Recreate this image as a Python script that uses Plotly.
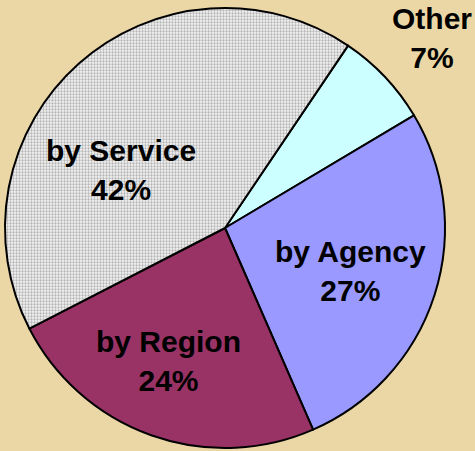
import plotly.graph_objects as go

labels = ["Other", "by Agency", "by Region", "by Service"]
values = [7, 27, 24, 42]
colors = ["#CCFFFF", "#9999FF", "#993366", "#F2F2F2"]

W, H = 475, 451
cx, cy, r = 225, 228, 220
FONT = dict(family="Liberation Sans, Arial", size=30, color="black", weight="bold")
# label block centres in pixels (layout placement only)
label_pos = [(432, 38), (350, 271), (168, 361), (121, 170)]

fig = go.Figure(go.Pie(
    labels=labels,
    values=values,
    sort=False,
    direction="clockwise",
    rotation=34,
    marker=dict(
        colors=colors,
        line=dict(color="black", width=2),
        pattern=dict(shape=["", "", "", "."], fgcolor="#B4B4B4", bgcolor="#F4F4F4", size=3, solidity=0.45),
    ),
    textinfo="none",
    domain=dict(x=[(cx - r) / W, (cx + r) / W], y=[1 - (cy + r) / H, 1 - (cy - r) / H]),
    showlegend=False,
    hoverinfo="label+percent",
))

total = sum(values)
for lab, val, (px, py) in zip(labels, values, label_pos):
    fig.add_annotation(
        x=px / W, y=1 - py / H, xref="paper", yref="paper",
        xanchor="center", yanchor="middle",
        text=f"{lab}<br>{round(100 * val / total)}%",
        showarrow=False,
        font=FONT,
    )

fig.update_layout(
    width=W, height=H,
    margin=dict(l=0, r=0, t=0, b=0),
    paper_bgcolor="#EBD7A6",
    plot_bgcolor="#EBD7A6",
)
fig.write_html("out.html", config={"displayModeBar": False},
               post_script="document.body.style.margin='0';document.body.style.overflow='hidden';")
